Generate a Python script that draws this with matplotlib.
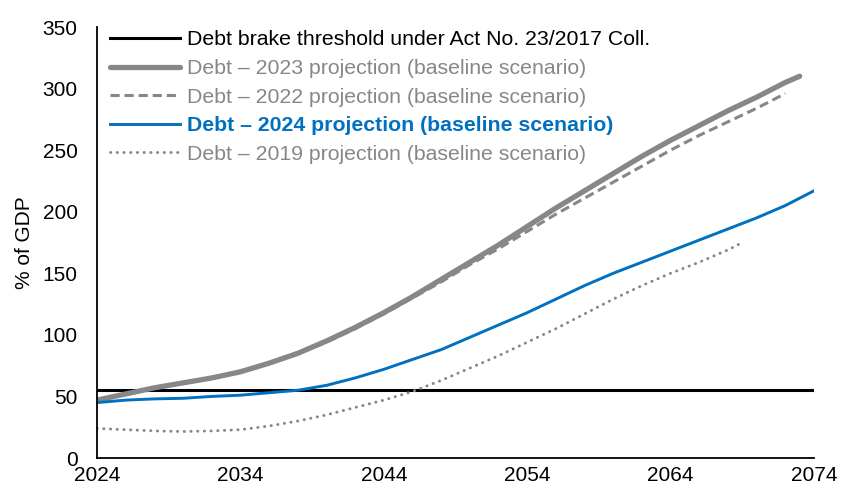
import matplotlib
matplotlib.use("Agg")
import matplotlib.pyplot as plt

plt.rcParams['font.family'] = ['Liberation Sans', 'DejaVu Sans']

threshold_years = [2024, 2074]
threshold_vals = [55, 55]

years_2023 = [2024, 2026, 2028, 2030, 2032, 2034, 2036, 2038, 2040, 2042, 2044, 2046, 2048,
              2050, 2052, 2054, 2056, 2058, 2060, 2062, 2064, 2066, 2068, 2070, 2072, 2073]
vals_2023 = [47, 52, 57, 61, 65, 70, 77, 85, 95, 106, 118, 131, 145,
             159, 173, 188, 203, 217, 231, 245, 258, 270, 282, 293, 305, 310]

years_2022 = [2024, 2026, 2028, 2030, 2032, 2034, 2036, 2038, 2040, 2042, 2044, 2046, 2048,
              2050, 2052, 2054, 2056, 2058, 2060, 2062, 2064, 2066, 2068, 2070, 2072]
vals_2022 = [47, 52, 57, 61, 65, 70, 77, 85, 94, 105, 117, 130, 143,
             157, 170, 184, 198, 211, 224, 237, 250, 262, 273, 284, 296]

years_2024 = [2024, 2026, 2028, 2030, 2032, 2034, 2036, 2038, 2040, 2042, 2044, 2046, 2048,
              2050, 2052, 2054, 2056, 2058, 2060, 2062, 2064, 2066, 2068, 2070, 2072, 2074]
vals_2024 = [45, 47, 48, 48.5, 50, 51, 53, 55, 59, 65, 72, 80, 88,
             98, 108, 118, 129, 140, 150, 159, 168, 177, 186, 195, 205, 217]

years_2019 = [2024, 2026, 2028, 2030, 2032, 2034, 2036, 2038, 2040, 2042, 2044, 2046, 2048,
              2050, 2052, 2054, 2056, 2058, 2060, 2062, 2064, 2066, 2068, 2069]
vals_2019 = [24, 23, 22, 21.5, 22, 23, 26, 30, 35, 41, 47, 54, 63,
             73, 83, 94, 105, 117, 129, 140, 150, 159, 169, 175]

x_ticks = [2024, 2034, 2044, 2054, 2064, 2074]
y_ticks = [0, 50, 100, 150, 200, 250, 300, 350]

labels = ["Debt brake threshold under Act No. 23/2017 Coll.",
          "Debt \u2013 2023 projection (baseline scenario)",
          "Debt \u2013 2022 projection (baseline scenario)",
          "Debt \u2013 2024 projection (baseline scenario)",
          "Debt \u2013 2019 projection (baseline scenario)"]

GREY = '#878787'
BLUE = '#0070C0'

fig = plt.figure(figsize=(8.41, 4.92), dpi=100)
ax = fig.add_axes([97/841, 1-458/492, (814-97)/841, (458-27)/492])

l1, = ax.plot(threshold_years, threshold_vals, color='black', lw=2.2, label=labels[0])
l2, = ax.plot(years_2023, vals_2023, color=GREY, lw=3.8, solid_capstyle='round',
              solid_joinstyle='round', label=labels[1])
l3, = ax.plot(years_2022, vals_2022, color=GREY, lw=2.2, ls=(0, (3, 1.6)), label=labels[2])
l4, = ax.plot(years_2024, vals_2024, color=BLUE, lw=2.1, solid_joinstyle='round', label=labels[3])
l5, = ax.plot(years_2019, vals_2019, color=GREY, lw=2.1, ls=(0, (0.1, 2.2)),
              dash_capstyle='round', label=labels[4])

ax.set_xlim(2024, 2074)
ax.set_ylim(0, 350)
ax.set_xticks(x_ticks)
ax.set_yticks(y_ticks)
ax.tick_params(axis='both', length=0, labelsize=15, colors='black')
ax.tick_params(axis='x', pad=6)
ax.tick_params(axis='y', pad=14)
for s in ['top', 'right']:
    ax.spines[s].set_visible(False)
for s in ['left', 'bottom']:
    ax.spines[s].set_linewidth(1.3)
    ax.spines[s].set_color('black')
ax.set_ylabel('% of GDP', fontsize=15, labelpad=6)

leg = ax.legend(handles=[l1, l2, l3, l4, l5], loc='upper left',
                bbox_to_anchor=(13/717, 0.992), frameon=False, fontsize=15.3,
                handlelength=3.3, handletextpad=0.33, labelspacing=0.45,
                borderaxespad=0, borderpad=0)
text_colors = ['black', GREY, GREY, BLUE, GREY]
for t, c in zip(leg.get_texts(), text_colors):
    t.set_color(c)
leg.get_texts()[3].set_fontweight('bold')

fig.savefig('out.png', dpi=100)
